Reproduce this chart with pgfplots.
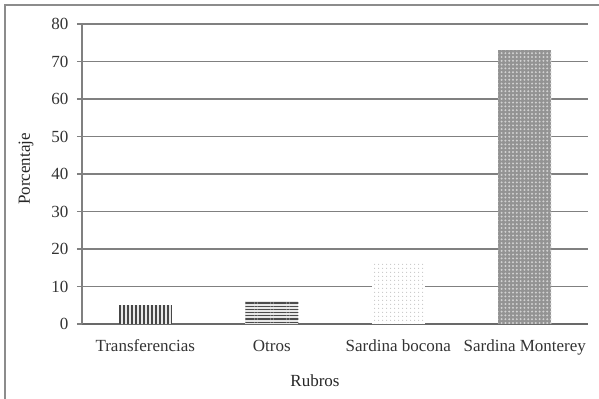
\documentclass[border=0pt]{standalone}
\usepackage{fontspec}
\setmainfont{Liberation Serif}
\usepackage{pgfplots}
\pgfplotsset{compat=1.18}
\usetikzlibrary{patterns.meta}

\definecolor{gridgray}{RGB}{128,128,128}
\definecolor{axisgray}{RGB}{105,105,105}
\definecolor{framegray}{RGB}{140,140,140}

\newcommand{\chartfont}{\fontsize{17bp}{20bp}\selectfont}

\begin{document}
\begin{tikzpicture}[font=\chartfont]
\useasboundingbox (0,0) rectangle (599bp,399bp);
% outer frame
\draw[framegray, line width=1.6bp] (5bp,-10bp) -- (5bp,394bp) -- (610bp,394bp);
\begin{axis}[
  at={(82bp,75bp)}, anchor=south west,
  scale only axis, width=506bp, height=300bp,
  xmin=-0.5, xmax=3.5, ymin=0, ymax=80,
  ytick={0,10,...,80},
  xtick={0,1,2,3},
  xticklabels={Transferencias, Otros, Sardina bocona, Sardina Monterey},
  axis x line=bottom, axis y line=left,
  axis line style={-},
  x axis line style={axisgray, line width=2bp},
  y axis line style={gridgray, line width=1.5bp},
  ymajorgrids,
  major grid style={gridgray, line width=1.5bp},
  tick align=outside,
  major tick length=5bp,
  ytick style={gridgray, line width=1.4bp},
  xtick style={draw=none},
  /pgf/number format/assume math mode=true,
  tick label style={font=\chartfont, text=black!80},
  label style={font=\chartfont, text=black!85},
  yticklabel style={xshift=-5bp},
  xticklabel style={anchor=base, yshift=-22bp},
  xlabel={Rubros},
  ylabel={Porcentaje},
  xlabel style={at={(axis description cs:0.4605,0)}, anchor=base, yshift=-62bp},
  ylabel style={at={(axis description cs:-0.1107,0.5167)}, anchor=center},
  ybar, bar width=53bp, bar shift=0pt,
]
% Transferencias: vertical lines
\addplot[draw=none, fill=gray!18] coordinates {(0,5)};
\addplot[draw=none, pattern={Lines[angle=90,distance=4bp,line width=1.3bp]}, pattern color=gray!55!black] coordinates {(0,5)};
% Otros: horizontal lines
\addplot[draw=none, fill=gray!18] coordinates {(1,6)};
\addplot[draw=none, pattern={Lines[angle=0,distance=3.2bp,line width=1.3bp]}, pattern color=gray!60!black] coordinates {(1,6)};
% Sardina bocona: light dots
\addplot[draw=none, fill=white] coordinates {(2,16)};
\addplot[draw=none, pattern={Dots[radius=0.55bp,distance=3.6bp]}, pattern color=gray!60] coordinates {(2,16)};
% Sardina Monterey: dark grey with light dots
\addplot[draw=none, fill=gray!85] coordinates {(3,73)};
\addplot[draw=none, pattern={Dots[radius=1.1bp,distance=3.8bp]}, pattern color=gray!35] coordinates {(3,73)};
\end{axis}
\end{tikzpicture}
\end{document}
